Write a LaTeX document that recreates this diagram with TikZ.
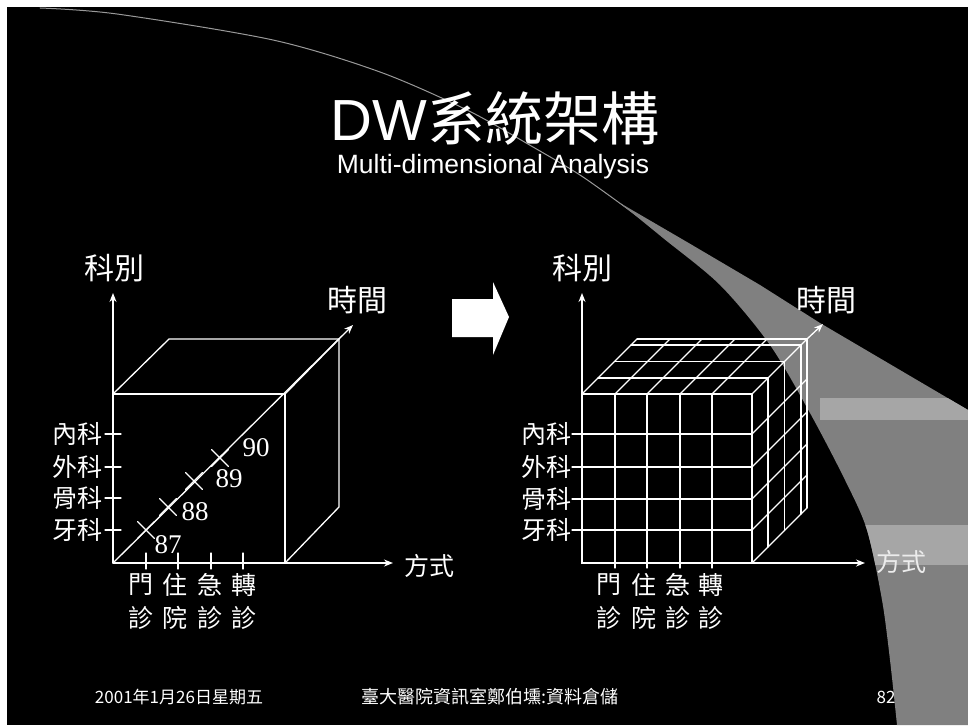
\documentclass[tikz,border=0pt]{standalone}
\usepackage{fontspec}
\setmainfont{Liberation Sans}
\newfontfamily\cjk{Noto Sans CJK TC}
\newfontfamily\numfont{Liberation Serif}
\usetikzlibrary{arrows.meta}
\usetikzlibrary{shapes.misc}
\tikzset{>={Stealth[length=9pt,width=7pt]},
  edge/.style={white, line width=1.3pt},
  axis/.style={white, line width=1.3pt, ->},
  lab/.style={text=white, inner sep=0pt, font=\cjk\fontsize{25}{25}\selectfont},
  axlab/.style={text=white, inner sep=0pt, font=\cjk\fontsize{30}{30}\selectfont},
  num/.style={text=white, inner sep=0pt, font=\numfont\fontsize{27}{27}\selectfont},
  mark x/.style={cross out, draw=white, line width=1.1pt, minimum size=16pt, inner sep=0pt},
  foot/.style={text=white, inner sep=0pt, font=\cjk\fontsize{17}{17}\selectfont}
}
\def\bandpath{plot[smooth] coordinates {(620,203) (663,238) (720,285) (770,345) (810,413) (845,480) (867,530) (882,600) (890,660) (897,725)} -- (968,725) -- (968,410) -- (820,323) -- (760,285) -- (687,242) -- cycle}

\begin{document}
\begin{tikzpicture}[x=1pt, y=-1pt, line cap=round]

    % slide background
    \useasboundingbox (0,0) rectangle (968,725);
    \fill[white] (0,0) rectangle (968,725);
    \fill[black] (7,7) rectangle (968,725);

    \draw[gray!80, line width=1pt] plot[smooth] coordinates {(40,8) (117,14) (273,40) (380,72) (467,110) (533,147) (583,177) (640,218)};
    \fill[gray] \bandpath;
    \begin{scope}
      \clip \bandpath;
      \fill[gray!70] (820,398) rectangle (968,420);
      \fill[gray!70] (860,525) rectangle (968,565);
    \end{scope}

    % title
    \node[text=white, inner sep=0pt, font=\fontsize{58}{58}\selectfont] (title) at (495,118) {DW{\cjk 系統架構}};
    \node[text=white, inner sep=0pt, font=\fontsize{26.5}{26.5}\selectfont] (sub) at (493,167) {Multi-dimensional Analysis};


    % left cube
    \coordinate (oL) at (113,563);
    \coordinate (yL) at (113,293);
    \coordinate (xL) at (393,563);
    \coordinate (zL) at (353,325);
    \coordinate (fa) at (113,394);
    \coordinate (fb) at (285,394);
    \coordinate (fc) at (285,563);
    \coordinate (ba) at (169,339);
    \coordinate (bb) at (339,339);
    \coordinate (bc) at (339,507);

    \draw [edge] (fa) -- (fb) -- (fc);
    \draw [edge] (fa) -- (ba) -- (bb) -- (bc) -- (fc);
    \draw [edge] (fb) -- (bb);
    \draw [axis] (oL) -- (yL);
    \draw [axis] (oL) -- (xL);
    \draw [axis] (oL) -- (zL);

    \foreach \y in {434,467,498,530}
      \draw [edge] (105,\y) -- (121,\y);
    \foreach \x in {146,178,211,243}
      \draw [edge] (\x,553) -- (\x,569);

    \node[mark x] (x87) at (146,530) {};
    \node[mark x] (x88) at (168,507) {};
    \node[mark x] (x89) at (194,481) {};
    \node[mark x] (x90) at (220,458) {};

	\node[num] (n87) at (168,545) {87};
	\node[num] (n88) at (195,512) {88};
	\node[num] (n89) at (229,479) {89};
	\node[num] (n90) at (256,448) {90};

	\node[axlab] (kebieL) at (114,268) {科別};
	\node[axlab] (shijianL) at (357,300) {時間};
	\node[lab, anchor=west] (fangshiL) at (404,566) {方式};

	\node[lab, anchor=east] (neiL) at (103,434) {內科};
	\node[lab, anchor=east] (waiL) at (103,467) {外科};
	\node[lab, anchor=east] (guL) at (103,498) {骨科};
	\node[lab, anchor=east] (yaL) at (103,530) {牙科};

	\node[lab] (menL) at (141,585) {門};
	\node[lab] (zhuL) at (175,585) {住};
	\node[lab] (jiL) at (210,585) {急};
	\node[lab] (zhuanL) at (244,585) {轉};
	\node[lab] (zhenaL) at (141,618) {診};
	\node[lab] (yuanL) at (175,618) {院};
	\node[lab] (zhenbL) at (210,618) {診};
	\node[lab] (zhencL) at (244,618) {診};


    % big arrow
    \fill[white] (452,299) -- (493,299) -- (493,282) -- (509,317) -- (493,355) -- (493,337) -- (452,337) -- cycle;


    % right cube, cut into cells
    \coordinate (oR) at (582,563);
    \coordinate (yR) at (582,293);
    \coordinate (xR) at (865,563);
    \coordinate (cR) at (807,339);
    \coordinate (zR) at (823,324);

    \draw [edge] (582,394) rectangle (752,563);
    \foreach \x in {615,647,680,712}
      \draw [edge] (\x,394) -- (\x,568);
    \foreach \y in {434,467,499,530}
      \draw [edge] (572,\y) -- (752,\y);
    \foreach \d in {16,32.5,49,55}
      \draw [edge] ({582+\d},{394-\d}) -- ({752+\d},{394-\d});
    \foreach \d in {16,32.5,49,55}
      \draw [edge] ({752+\d},{394-\d}) -- ({752+\d},{563-\d});
    \foreach \x in {582,615,647,680,712,752}
      \draw [edge] (\x,394) -- ({\x+55},339);
    \foreach \y in {434,467,499,530,563}
      \draw [edge] (752,\y) -- (807,{\y-55});

    \draw [axis] (oR) -- (yR);
    \draw [axis] (oR) -- (xR);
    \draw [axis] (cR) -- (zR);

	\node[axlab] (kebieR) at (582,268) {科別};
	\node[axlab] (shijianR) at (826,300) {時間};
	\node[lab, anchor=west, text=white!85!gray] (fangshiR) at (876,562) {方式};

	\node[lab, anchor=east] (neiR) at (572,434) {內科};
	\node[lab, anchor=east] (waiR) at (572,467) {外科};
	\node[lab, anchor=east] (guR) at (572,499) {骨科};
	\node[lab, anchor=east] (yaR) at (572,530) {牙科};

	\node[lab] (menR) at (609,585) {門};
	\node[lab] (zhuR) at (644,585) {住};
	\node[lab] (jiR) at (678,585) {急};
	\node[lab] (zhuanR) at (711,585) {轉};
	\node[lab] (zhenaR) at (609,618) {診};
	\node[lab] (yuanR) at (644,618) {院};
	\node[lab] (zhenbR) at (678,618) {診};
	\node[lab] (zhencR) at (711,618) {診};


    % footer
	\node[foot] (date) at (179,697) {2001年1月26日星期五};
	\node[foot, font=\cjk\fontsize{18}{18}\selectfont] (author) at (490,697) {臺大醫院資訊室鄭伯壎:資料倉儲};
	\node[foot] (page) at (886,697) {82};

\end{tikzpicture}
\end{document}
